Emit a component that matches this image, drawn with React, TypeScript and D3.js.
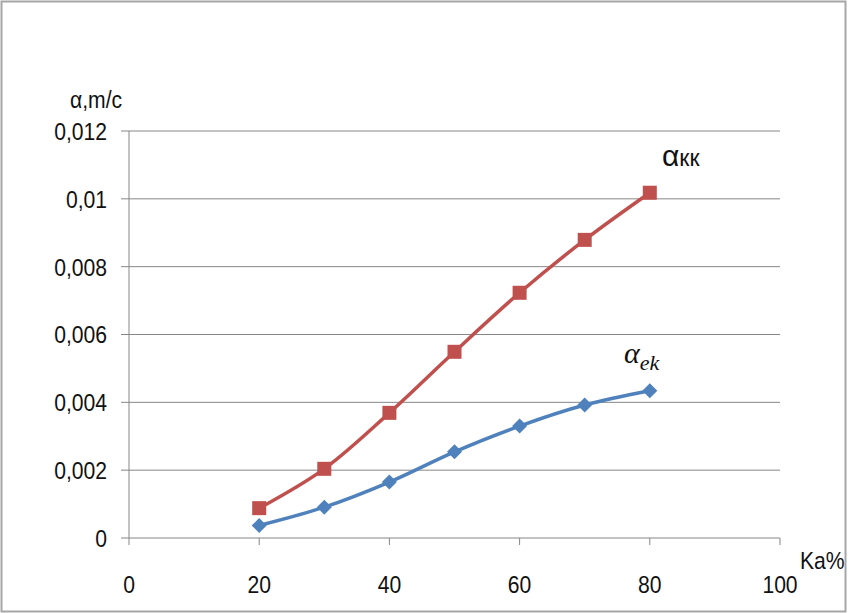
import React from "react";
import * as d3 from "d3";

const xValues = [20, 30, 40, 50, 60, 70, 80];
const akkValues = [0.00088, 0.00204, 0.00369, 0.00549, 0.00723, 0.00879, 0.01018];
const aekValues = [0.00037, 0.00091, 0.00165, 0.00254, 0.0033, 0.00392, 0.00434];
const xTicks = [0, 20, 40, 60, 80, 100];
const yTicks = [0, 0.002, 0.004, 0.006, 0.008, 0.01, 0.012];
const yTickLabels = ["0", "0,002", "0,004", "0,006", "0,008", "0,01", "0,012"];

const W = 848;
const H = 613;
const RED = "#C0504D";
const BLUE = "#4F81BD";
const GRID = "#868686";
const FONT = "'Liberation Sans', Arial, sans-serif";
const SX = 0.88;

function Label(props: { x: number; y: number; anchor?: string; size?: number; children: React.ReactNode; baseline?: string }) {
  const { x, y, anchor = "start", size = 24, children, baseline } = props;
  return (
    <text
      transform={`translate(${x},${y}) scale(${SX},1)`}
      textAnchor={anchor}
      dominantBaseline={baseline}
      fontFamily={FONT}
      fontSize={size}
      fill="#111"
    >
      {children}
    </text>
  );
}

export default function App() {
  const x = d3.scaleLinear().domain([0, 100]).range([129, 780]);
  const y = d3.scaleLinear().domain([0, 0.012]).range([538, 131]);

  const line = d3
    .line<[number, number]>()
    .x((d) => x(d[0]))
    .y((d) => y(d[1]))
    .curve(d3.curveCatmullRom.alpha(0.5));

  const akkPts = xValues.map((v, i) => [v, akkValues[i]] as [number, number]);
  const aekPts = xValues.map((v, i) => [v, aekValues[i]] as [number, number]);

  return (
    <svg
      width={W}
      height={H}
      style={{ position: "absolute", left: 0, top: 0, background: "#fff" }}
    >
      <rect x={0} y={0} width={W} height={H} fill="#fff" />
      <rect x={1.5} y={1.5} width={W - 4} height={H - 3} fill="none" stroke="#a6a6a6" strokeWidth={2} />

      {/* gridlines */}
      {yTicks.map((t) => (
        <line key={"g" + t} x1={121} x2={x(100)} y1={y(t)} y2={y(t)} stroke={GRID} strokeWidth={1} />
      ))}
      {/* y axis */}
      <line x1={x(0)} x2={x(0)} y1={y(0.012)} y2={y(0)} stroke={GRID} strokeWidth={1} />
      {/* x ticks */}
      {xTicks.map((t) => (
        <line key={"xt" + t} x1={x(t)} x2={x(t)} y1={y(0)} y2={y(0) + 7} stroke={GRID} strokeWidth={1} />
      ))}

      {/* y tick labels */}
      {yTicks.map((t, i) => (
        <Label key={"yl" + t} x={107} y={y(t) + 1} anchor="end" baseline="central">
          {yTickLabels[i]}
        </Label>
      ))}
      {/* x tick labels */}
      {xTicks.map((t) => (
        <Label key={"xl" + t} x={x(t)} y={593} anchor="middle">
          {t}
        </Label>
      ))}

      {/* axis titles */}
      <Label x={70} y={108}>α,m/c</Label>
      <Label x={800} y={569}>Ka%</Label>

      {/* series */}
      <path d={line(akkPts) || ""} fill="none" stroke={RED} strokeWidth={3.5} strokeLinejoin="round" />
      <path d={line(aekPts) || ""} fill="none" stroke={BLUE} strokeWidth={3.5} strokeLinejoin="round" />

      {akkPts.map((p, i) => (
        <rect key={"r" + i} x={x(p[0]) - 7} y={y(p[1]) - 7} width={14} height={14} fill={RED} />
      ))}
      {aekPts.map((p, i) => (
        <path
          key={"b" + i}
          d={`M${x(p[0])},${y(p[1]) - 7.5}L${x(p[0]) + 7.5},${y(p[1])}L${x(p[0])},${y(p[1]) + 7.5}L${x(p[0]) - 7.5},${y(p[1])}Z`}
          fill={BLUE}
        />
      ))}

      {/* series labels */}
      <text x={662} y={166} fontFamily={FONT} fill="#111">
        <tspan fontSize={30}>α</tspan>
        <tspan fontSize={23}>кк</tspan>
      </text>
      <text x={624} y={363} fontFamily="'Liberation Serif', 'DejaVu Serif', serif" fontStyle="italic" fill="#111">
        <tspan fontSize={30}>α</tspan>
        <tspan fontSize={22} dy={7}>ek</tspan>
      </text>
    </svg>
  );
}
